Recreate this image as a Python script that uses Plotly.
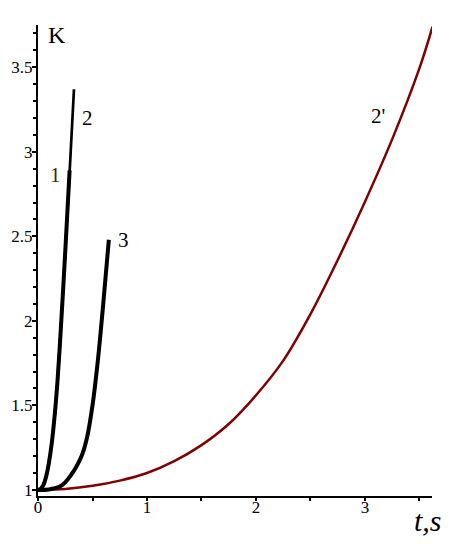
import plotly.graph_objects as go

# Curve 1 (black, thick)
t1 = [0.0, 0.025, 0.05, 0.075, 0.1, 0.125, 0.15, 0.175, 0.2, 0.25, 0.29]
k1 = [1.0, 1.007, 1.03, 1.08, 1.16, 1.27, 1.42, 1.61, 1.85, 2.41, 2.89]

# Curve 2 (black)
t2 = [0.0, 0.025, 0.05, 0.075, 0.1, 0.125, 0.15, 0.175, 0.2, 0.25, 0.3, 0.33]
k2 = [1.0, 1.007, 1.03, 1.08, 1.16, 1.27, 1.42, 1.61, 1.85, 2.41, 3.0, 3.37]

# Curve 3 (black, thick)
t3 = [0.0, 0.1, 0.2, 0.25, 0.3, 0.35, 0.4, 0.45, 0.5, 0.55, 0.6, 0.65]
k3 = [1.0, 1.003, 1.02, 1.045, 1.085, 1.135, 1.20, 1.31, 1.50, 1.77, 2.11, 2.48]

# Curve 2' (dark red)
t2p = [0.0, 0.25, 0.5, 0.75, 1.0, 1.25, 1.5, 1.75, 2.0, 2.25, 2.5, 2.75, 3.0, 3.25, 3.5, 3.62]
k2p = [1.0, 1.006, 1.024, 1.055, 1.10, 1.17, 1.265, 1.39, 1.56, 1.765, 2.04, 2.36, 2.705, 3.075, 3.495, 3.74]

x_ticks = [0, 1, 2, 3]
x_tick_labels = ["0", "1", "2", "3"]
y_ticks = [1, 1.5, 2, 2.5, 3, 3.5]
y_tick_labels = ["1", "1.5", "2", "2.5", "3", "3.5"]

curve_labels = ["1", "2", "3", "2'"]
curve_label_t = [0.156, 0.45, 0.78, 3.12]
curve_label_k = [2.86, 3.20, 2.48, 3.21]

SERIF = "Liberation Serif, Times New Roman, serif"

fig = go.Figure()
fig.add_trace(go.Scatter(x=t2p, y=k2p, mode="lines", line=dict(color="#800000", width=2.5, shape="spline"), showlegend=False))
fig.add_trace(go.Scatter(x=t3, y=k3, mode="lines", line=dict(color="black", width=4, shape="spline"), showlegend=False))
fig.add_trace(go.Scatter(x=t2, y=k2, mode="lines", line=dict(color="black", width=2.7, shape="spline"), showlegend=False))
fig.add_trace(go.Scatter(x=t1, y=k1, mode="lines", line=dict(color="black", width=4, shape="spline"), showlegend=False))

for lab, xt, yk in zip(curve_labels, curve_label_t, curve_label_k):
    fig.add_annotation(x=xt, y=yk, text=lab, showarrow=False, xanchor="center", yanchor="middle",
                       font=dict(family=SERIF, size=21, color="#3a2510" if lab == "1" else "black"))

fig.add_annotation(xref="paper", yref="paper", x=0.02, y=0.979, text="K", showarrow=False,
                   xanchor="left", yanchor="middle", font=dict(family=SERIF, size=24, color="black"))
fig.add_annotation(xref="paper", yref="paper", x=1.03, y=-0.053, text="<i>t,s</i>", showarrow=False,
                   xanchor="right", yanchor="middle", font=dict(family=SERIF, size=30, color="black"))

fig.update_xaxes(range=[0, 3.615], showline=True, linecolor="black", linewidth=2, automargin=False,
                 showgrid=False, zeroline=False, ticks="outside", ticklen=3, tickwidth=2, tickcolor="black",
                 tickvals=x_ticks, ticktext=x_tick_labels, ticklabelstandoff=-8,
                 tickfont=dict(family=SERIF, size=17, color="black"),
                 minor=dict(ticks="outside", ticklen=3, tickwidth=2, tickcolor="black", dtick=0.5, tick0=0, showgrid=False))
fig.update_yaxes(range=[0.964, 3.75], showline=True, linecolor="black", linewidth=2, automargin=False,
                 showgrid=False, zeroline=False, ticks="outside", ticklen=4, tickwidth=2, tickcolor="black",
                 tickvals=y_ticks, ticktext=y_tick_labels, ticklabelstandoff=-4,
                 tickfont=dict(family=SERIF, size=17, color="black"),
                 minor=dict(ticks="outside", ticklen=3, tickwidth=2, tickcolor="black", dtick=0.1, tick0=0, showgrid=False))

fig.update_layout(width=448, height=542, margin=dict(l=30, r=24, t=17, b=54, autoexpand=False),
                  plot_bgcolor="white", paper_bgcolor="white", showlegend=False)

fig.write_html("out.html")
